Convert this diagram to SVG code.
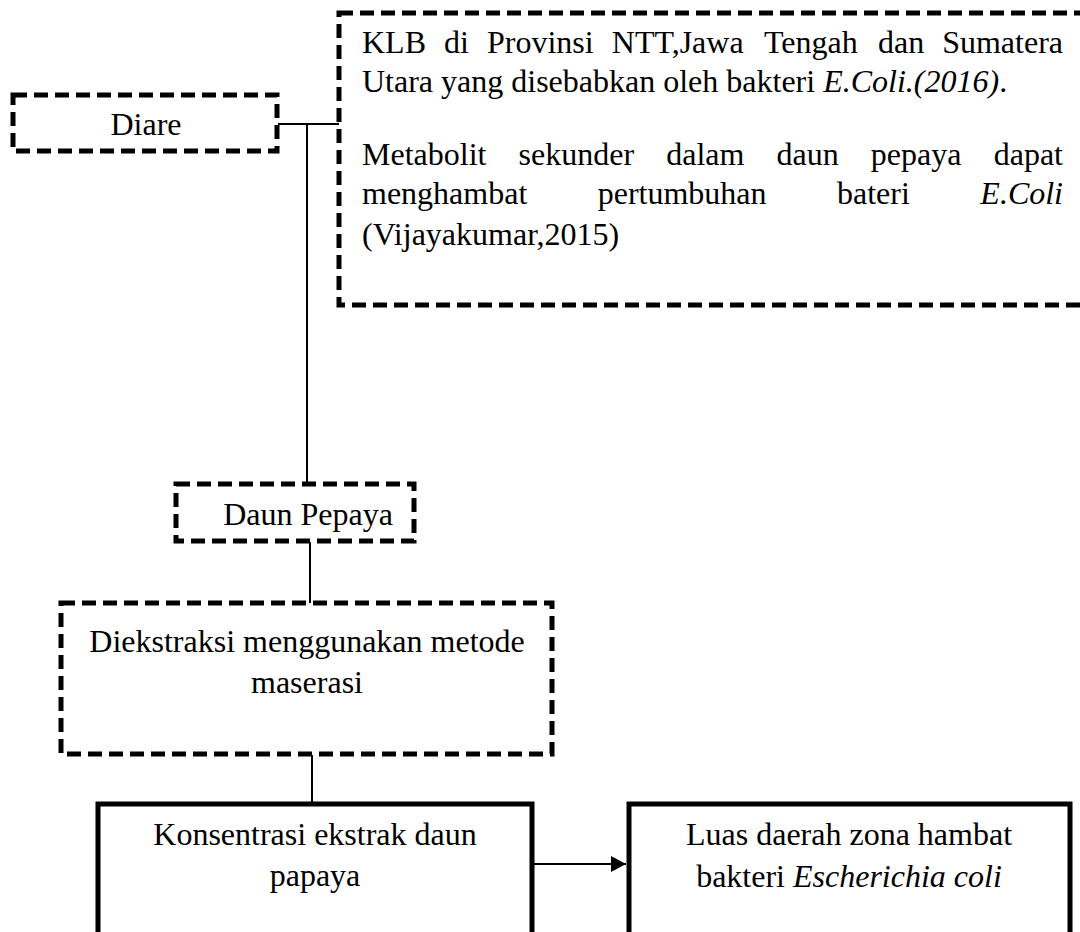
<svg xmlns="http://www.w3.org/2000/svg" width="1080" height="932" viewBox="0 0 1080 932">
<defs>
<style>
.dash{fill:#fff;stroke:#000;stroke-width:5;stroke-dasharray:14 7}
.solid{fill:#fff;stroke:#000;stroke-width:5}
.t{font-family:"Liberation Serif","Times New Roman",serif;font-size:32px;fill:#000}
.c{text-anchor:middle}
.e{text-anchor:end}
.i{font-style:italic}
.ln{stroke:#000;stroke-width:2;fill:none}
</style>
<marker id="arr" markerWidth="8" markerHeight="8" refX="7.5" refY="4" orient="auto" markerUnits="strokeWidth">
<path d="M0,0 L7.5,4 L0,8 Z" fill="#000"/>
</marker>
</defs>
<rect width="1080" height="932" fill="#fff"/>
<g id="connectors">
<line class="ln" x1="278" y1="124" x2="339" y2="124"/>
<line class="ln" x1="307" y1="124" x2="307" y2="484"/>
<line class="ln" x1="310" y1="542" x2="310" y2="603"/>
<line class="ln" x1="312" y1="755" x2="312" y2="804"/>
<line class="ln" x1="533" y1="864" x2="626" y2="864" marker-end="url(#arr)"/>
</g>
<g id="diare">
<rect class="dash" x="13" y="95" width="264" height="56"/>
<text class="t c" x="146" y="135">Diare</text>
</g>
<g id="info">
<rect class="dash" x="339" y="13" width="760" height="292"/>
<text class="t"><tspan x="362" y="53">KLB</tspan><tspan x="444" y="53">di</tspan><tspan x="487" y="53">Provinsi</tspan><tspan x="611.8" y="53">NTT,Jawa</tspan><tspan x="764" y="53">Tengah</tspan><tspan x="878.1" y="53">dan</tspan></text>
<text class="t e" x="1063" y="53">Sumatera</text>
<text class="t" x="362" y="92">Utara yang disebabkan oleh bakteri <tspan class="i">E.Coli.(2016)</tspan>.</text>
<text class="t"><tspan x="362" y="165">Metabolit</tspan><tspan x="518.6" y="165">sekunder</tspan><tspan x="666.2" y="165">dalam</tspan><tspan x="776.5" y="165">daun</tspan><tspan x="870.8" y="165">pepaya</tspan></text>
<text class="t e" x="1063" y="165">dapat</text>
<text class="t"><tspan x="362" y="204">menghambat</tspan><tspan x="597.7" y="204">pertumbuhan</tspan><tspan x="837" y="204">bateri</tspan></text>
<text class="t e i" x="1063" y="204">E.Coli</text>
<text class="t" x="362" y="245">(Vijayakumar,2015)</text>
</g>
<g id="daun">
<rect class="dash" x="176" y="484" width="238" height="57"/>
<text class="t c" x="308" y="525">Daun Pepaya</text>
</g>
<g id="ekstraksi">
<rect class="dash" x="61" y="603" width="491" height="151"/>
<text class="t c" x="307" y="652">Diekstraksi menggunakan metode</text>
<text class="t c" x="307" y="693">maserasi</text>
</g>
<g id="konsentrasi">
<rect class="solid" x="98" y="804" width="434" height="150"/>
<text class="t c" x="315" y="845">Konsentrasi ekstrak daun</text>
<text class="t c" x="315" y="886">papaya</text>
</g>
<g id="luas">
<rect class="solid" x="629" y="804" width="441" height="150"/>
<text class="t c" x="849" y="845">Luas daerah zona hambat</text>
<text class="t c" x="849" y="887">bakteri <tspan class="i">Escherichia coli</tspan></text>
</g>
</svg>
